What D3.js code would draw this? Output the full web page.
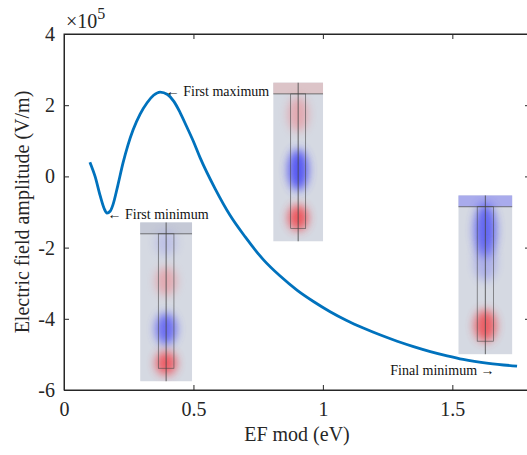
<!DOCTYPE html>
<html><head><meta charset="utf-8">
<script src="https://cdn.jsdelivr.net/npm/d3@7"></script>
<style>body{margin:0;background:#fff;} svg{display:block;} svg text{font-family:'Liberation Serif','Times New Roman',Times,'DejaVu Serif',serif !important;}</style>
</head><body>
<svg id="c" width="527" height="455"></svg>
<script>
// Data (EF mod in eV, field in units of 1e5 V/m)
const efMod = [0.100,0.120,0.140,0.155,0.166,0.178,0.189,0.208,0.228,0.247,0.267,0.294,0.321,0.346,0.371,0.400,0.425,0.448,0.475,0.500,0.526,0.584,0.642,0.700,0.769,0.835,0.901,0.965,1.028,1.090,1.156,1.220,1.287,1.350,1.415,1.480,1.542,1.640,1.750];
const field = [0.40,0.00,-0.55,-0.90,-1.03,-0.98,-0.80,-0.25,0.38,0.88,1.31,1.75,2.07,2.28,2.37,2.30,2.10,1.80,1.38,0.98,0.52,-0.35,-1.10,-1.70,-2.33,-2.80,-3.20,-3.52,-3.80,-4.04,-4.26,-4.45,-4.63,-4.78,-4.92,-5.04,-5.14,-5.25,-5.33];
const xTicks = [0,0.5,1,1.5];
const yTicks = [-6,-4,-2,0,2,4];
const annotations = [
  {text:"\u2190 First maximum", x:0.393, y:2.40, anchor:"start"},
  {text:"\u2190 First minimum", x:0.168, y:-1.06, anchor:"start"},
  {text:"Final minimum \u2192", x:1.663, y:-5.45, anchor:"end"}
];
// inset field maps: extent in data coords, band colour, blobs (relative position, colour, opacity)
const insets = [
  {x0:0.294,x1:0.495,y0:-1.29,y1:-5.76,band:"#c5c9d6",
   blobs:[{cy:0.13,ry:0.08,c:"#8a8cf0",o:0.3},{cy:0.37,ry:0.09,c:"#f07a80",o:0.5},{cy:0.67,ry:0.10,c:"#5a5cf5",o:0.85},{cy:0.885,ry:0.075,c:"#f05058",o:0.9}]},
  {x0:0.808,x1:1.001,y0:2.64,y1:-1.83,band:"#dcc4c8",
   blobs:[{cy:0.20,ry:0.11,c:"#f07a80",o:0.5},{cy:0.55,ry:0.13,c:"#4a4cf5",o:0.9},{cy:0.85,ry:0.08,c:"#f04850",o:0.9}]},
  {x0:1.523,x1:1.732,y0:-0.53,y1:-5.0,band:"#a9abec",
   blobs:[{cy:0.22,ry:0.17,c:"#5052f5",o:0.85},{cy:0.42,ry:0.12,c:"#7c7ef0",o:0.45},{cy:0.82,ry:0.10,c:"#f04850",o:0.85}]}
];

const svg = d3.select("#c");
const m = {l:64, t:34};
const W = 466, H = 356;
const x = d3.scaleLinear().domain([0,1.8]).range([m.l, m.l+W]);
const y = d3.scaleLinear().domain([-6,4]).range([m.t+H, m.t]);
const axisCol = "#262626";
const FONT = "'Liberation Serif','Times New Roman',Times,serif";

const defs = svg.append("defs");
defs.append("filter").attr("id","blur").attr("x","-50%").attr("y","-50%").attr("width","200%").attr("height","200%")
  .append("feGaussianBlur").attr("stdDeviation",5);

// insets
insets.forEach((d,i)=>{
  const X0=x(d.x0), X1=x(d.x1), Y0=y(d.y0), Y1=y(d.y1);
  const w=X1-X0, h=Y1-Y0, cx=(X0+X1)/2;
  defs.append("clipPath").attr("id","ic"+i).append("rect").attr("x",X0).attr("y",Y0).attr("width",w).attr("height",h);
  const g = svg.append("g").attr("clip-path",`url(#ic${i})`);
  g.append("rect").attr("x",X0).attr("y",Y0).attr("width",w).attr("height",h).attr("fill","#d5d9e2");
  const bandH = h*0.072;
  g.append("rect").attr("x",X0).attr("y",Y0).attr("width",w).attr("height",bandH).attr("fill",d.band);
  g.selectAll("ellipse.b").data(d.blobs).join("ellipse")
    .attr("cx",cx).attr("cy",b=>Y0+b.cy*h).attr("rx",w*0.2).attr("ry",b=>b.ry*h)
    .attr("fill",b=>b.c).attr("opacity",b=>b.o).attr("filter","url(#blur)");
  g.append("line").attr("x1",X0).attr("x2",X1).attr("y1",Y0+bandH).attr("y2",Y0+bandH).attr("stroke","#555").attr("stroke-width",0.8);
  g.append("rect").attr("x",cx-w*0.15).attr("y",Y0+bandH).attr("width",w*0.30).attr("height",h*0.845)
    .attr("fill","none").attr("stroke","#444").attr("stroke-width",0.7).attr("opacity",0.8);
  g.append("line").attr("x1",cx).attr("x2",cx).attr("y1",Y0).attr("y2",Y0+h).attr("stroke","#444").attr("stroke-width",0.8);
});

// box
svg.append("rect").attr("x",m.l).attr("y",m.t).attr("width",W).attr("height",H).attr("fill","none").attr("stroke",axisCol).attr("stroke-width",1);

// axes (inward ticks)
const xa = svg.append("g").attr("transform",`translate(0,${m.t+H})`)
  .call(d3.axisBottom(x).tickValues(xTicks).tickSizeInner(-5).tickSizeOuter(0).tickPadding(12).tickFormat(d=>String(d)));
const xt = svg.append("g").attr("transform",`translate(0,${m.t})`)
  .call(d3.axisTop(x).tickValues(xTicks).tickSizeInner(-5).tickSizeOuter(0).tickFormat(""));
const ya = svg.append("g").attr("transform",`translate(${m.l},0)`)
  .call(d3.axisLeft(y).tickValues(yTicks).tickSizeInner(-5).tickSizeOuter(0).tickPadding(9).tickFormat(d=>String(d)));
const yr = svg.append("g").attr("transform",`translate(${m.l+W},0)`)
  .call(d3.axisRight(y).tickValues(yTicks).tickSizeInner(-5).tickSizeOuter(0).tickFormat(""));
[xa,xt,ya,yr].forEach(g=>{
  g.attr("font-family",FONT);
  g.select(".domain").attr("stroke",axisCol);
  g.selectAll(".tick line").attr("stroke",axisCol);
  g.selectAll("text").attr("font-family",FONT).attr("font-size",20).attr("fill","#262626");
});

// curve
svg.append("path").datum(efMod.map((v,i)=>[v,field[i]]))
  .attr("d",d3.line().x(d=>x(d[0])).y(d=>y(d[1])).curve(d3.curveMonotoneX))
  .attr("fill","none").attr("stroke","#0072BD").attr("stroke-width",2.8).attr("stroke-linejoin","round");

// annotations
svg.selectAll("text.ann").data(annotations).join("text").attr("class","ann")
  .attr("x",d=>x(d.x)).attr("y",d=>y(d.y)).attr("dy","0.35em").attr("text-anchor",d=>d.anchor)
  .attr("font-family",FONT).attr("font-size",14).attr("fill","#111").text(d=>d.text);

// multiplier
const mt = svg.append("text").attr("x",m.l+2).attr("y",m.t-6).attr("font-family",FONT).attr("font-size",20).attr("fill","#262626");
mt.append("tspan").text("\u00d710");
mt.append("tspan").attr("dy",-9).attr("font-size",16).text("5");

// labels
svg.append("text").attr("x",x(0.9)).attr("y",441).attr("text-anchor","middle").attr("font-family",FONT).attr("font-size",20).attr("fill","#262626").text("EF mod (eV)");
svg.append("text").attr("transform",`translate(29,${y(-1)}) rotate(-90)`).attr("text-anchor","middle").attr("font-family",FONT).attr("font-size",20).attr("fill","#262626").text("Electric field amplitude (V/m)");
</script>
</body></html>
